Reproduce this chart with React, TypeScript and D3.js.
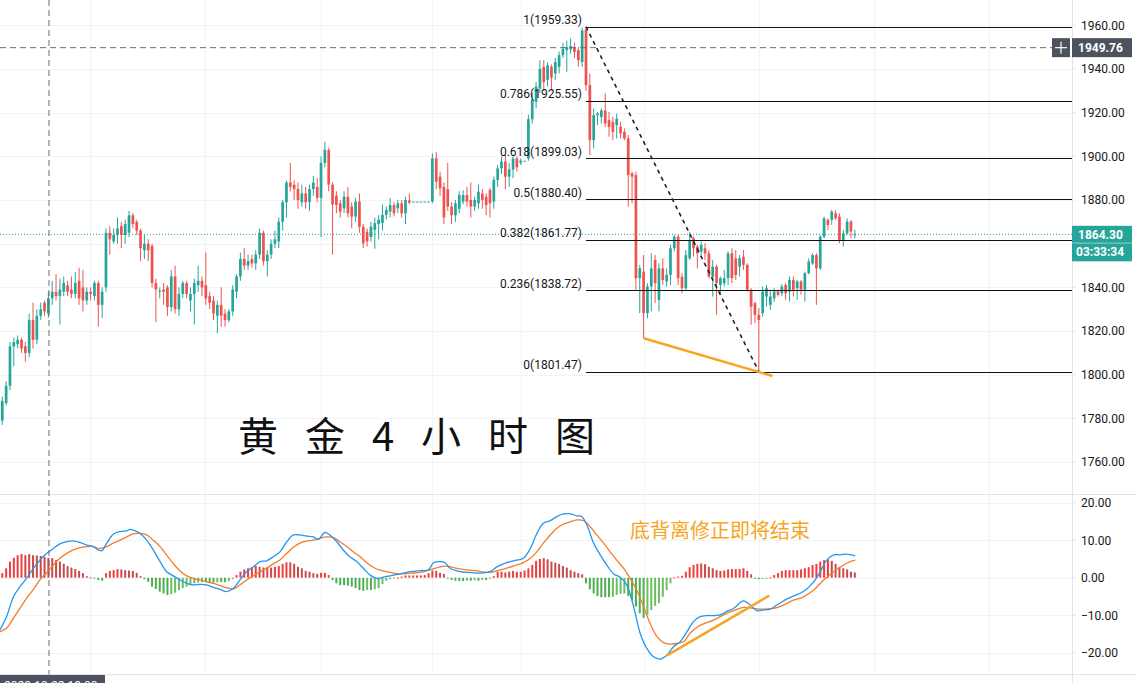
import React from 'react';
import * as d3 from 'd3';

// ---------- DATA ----------
// 4h candles [open, high, low, close]
const ohlc: [number, number, number, number][] = [
  [1779,1790,1777,1788],[1787,1797,1786,1795],[1795,1815,1793,1813],[1813,1817,1804,1815],[1814,1818,1812,1816],
  [1816,1817,1810,1812],[1813,1815,1806,1810],[1810,1828,1808,1825],[1825,1833,1812,1816],[1816,1830,1814,1827],
  [1827,1833,1825,1830],[1833,1834,1827,1829],[1828,1838,1826,1835],[1835,1843,1832,1838],[1838,1846,1834,1836],
  [1836,1844,1823,1839],[1838,1845,1836,1842],[1841,1843,1836,1838],[1839,1845,1835,1837],[1837,1847,1835,1842],
  [1843,1849,1832,1835],[1840,1848,1829,1834],[1834,1840,1832,1838],[1838,1840,1834,1837],[1836,1843,1834,1842],
  [1842,1843,1822,1832],[1832,1840,1826,1838],[1840,1867,1838,1865],[1865,1868,1855,1862],[1861,1867,1860,1864],
  [1864,1872,1860,1867],[1868,1870,1858,1864],[1864,1871,1860,1869],[1865,1875,1863,1873],[1873,1874,1867,1869],
  [1870,1871,1864,1866],[1866,1867,1852,1858],[1857,1864,1853,1860],[1860,1862,1852,1857],[1859,1860,1840,1842],
  [1842,1844,1824,1839],[1838,1840,1835,1838.5],[1839,1842,1832,1838],[1840,1841,1827,1831],[1831,1848,1829,1845],
  [1845,1850,1828,1830],[1830,1840,1827,1837],[1837,1843,1835,1842],[1842,1843,1835,1837],[1834,1840,1829,1837],
  [1837,1844,1823,1842],[1841,1850,1838,1843],[1843,1845,1836,1840],[1841,1856,1832,1835],[1836,1838,1830,1833],
  [1834,1836,1825,1828],[1827,1834,1819,1832],[1832,1840,1822,1827],[1828,1830,1822,1825],[1825,1830,1824,1829],
  [1829,1841,1827,1839],[1838,1846,1835,1845],[1845,1856,1843,1853],[1853,1858,1848,1850],[1850,1855,1848,1852],
  [1853,1855,1849,1851],[1851,1857,1848,1855],[1855,1867,1853,1865],[1865,1866,1850,1852],[1852,1857,1845,1855],
  [1855,1862,1853,1860],[1860,1866,1858,1862],[1861,1872,1858,1870],[1870,1880,1866,1879],[1879,1889,1872,1888],
  [1888,1897,1884,1886],[1887,1889,1880,1885],[1885,1888,1876,1880],[1879,1887,1877,1883],[1883,1886,1876,1879],
  [1879,1887,1875,1885],[1885,1891,1882,1888],[1886,1890,1879,1881],[1881,1900,1863,1897],[1897,1906.7,1895,1903],
  [1903,1904,1884,1887],[1887,1888,1855,1878],[1882,1884,1874,1877.7],[1878.5,1880,1872,1874.7],[1876.2,1884,1874,1881.5],
  [1881.5,1886,1872,1873.9],[1877,1879,1867,1872.4],[1872.4,1881,1870,1879.3],[1879.3,1883,1865,1867.8],[1867.8,1869,1858,1860.2],
  [1865.5,1867,1858.7,1861],[1863,1870,1861,1867.8],[1866.3,1872,1857.7,1869.4],[1869,1873,1862,1871],[1869.4,1878,1866,1873.2],
  [1873.2,1877,1871,1875.5],[1874.7,1881,1872,1877.7],[1877.7,1879,1872.5,1873.9],[1876.2,1880,1874,1878.5],[1878.5,1880,1872,1873.9],
  [1873.9,1881.5,1869,1880],[1879.8,1883,1878,1878.8],[1879.3,1879.3,1879.3,1879.3],[1879.3,1879.3,1879.3,1879.3],[1879.3,1879.3,1879.3,1879.3],
  [1879.3,1879.3,1879.3,1879.3],[1879.3,1879.3,1879.3,1879.3],[1879.3,1901.4,1878.5,1899.1],[1899.1,1902,1885,1888.4],[1890.7,1893,1882,1885.4],
  [1886,1888,1869,1872],[1885,1897,1875,1877],[1877,1879,1869,1873],[1873,1880,1870,1878.5],[1876,1884,1874,1882.3],
  [1879.3,1884.5,1878,1882.3],[1882.3,1886,1877,1879.3],[1880,1888,1872,1877],[1877,1881.5,1875,1880],[1878.5,1887,1876,1883.8],
  [1883,1885,1876,1880],[1881.5,1883,1873,1877.7],[1884.6,1885.5,1872,1878.5],[1879.3,1890.7,1876,1889.2],[1889.2,1896,1886,1894.5],
  [1894.5,1899.9,1892,1897.6],[1897.6,1900.6,1885,1890.7],[1890.7,1897,1886,1894],[1894,1900,1890,1899],[1899,1900,1893,1895],
  [1897,1899,1896,1898],[1898,1898,1898,1898],[1899,1919,1898,1917],[1917,1929,1915,1926],[1925,1934,1922,1932],
  [1931,1944,1929,1940],[1941,1944,1930,1934],[1935,1943,1932,1941.7],[1941,1942,1930,1936],[1937.9,1945,1935,1943.2],
  [1941,1948,1938,1946.3],[1946.3,1952,1945,1949.3],[1948.6,1953,1938.7,1950],[1949,1954,1947,1950.5],[1950,1952,1945,1947.8],
  [1948.6,1950,1941,1944],[1943.2,1959,1941,1957.7],[1958,1959.33,1930,1932.6],[1932.6,1937.9,1900.6,1907.4],[1907.4,1921.9,1903.6,1918.9],
  [1918.9,1920.4,1914.3,1919.6],[1918,1922,1915,1921],[1921,1928.8,1913.5,1915],[1916.6,1920.4,1909,1913.5],[1915.8,1918.1,1907.4,1911.2],
  [1914.3,1919.6,1908.2,1917.3],[1913.5,1915.8,1908.2,1910.5],[1911.2,1912.8,1907.4,1908.2],[1908.2,1909.7,1877,1891.4],[1892.2,1893,1878.5,1890.7],
  [1891.4,1893,1838.9,1844.2],[1844.2,1850.3,1828.2,1848.7],[1847.2,1854.8,1816.7,1828.2],[1828.2,1841.9,1825.9,1840.4],[1840.4,1855.6,1829,1848.7],
  [1852.6,1854.8,1832.8,1841.9],[1834.3,1851,1829,1848.7],[1848.7,1853.3,1841.1,1843.4],[1842.7,1848.7,1840.4,1845.7],[1845.7,1859.4,1841.1,1857.9],
  [1857.9,1864,1856.4,1863.2],[1863.2,1864,1841.1,1844.2],[1844.9,1846.5,1837.3,1839.6],[1839.6,1857.1,1838.9,1854.8],[1853.3,1865.5,1852.6,1861.7],
  [1862.5,1863.2,1854.1,1857.9],[1858.7,1859.4,1848.7,1855.6],[1856.4,1861,1854.8,1859.4],[1857.9,1860.2,1852.6,1855.6],[1855.6,1857.1,1844.2,1844.9],
  [1844.9,1852.6,1835.8,1849.5],[1849.5,1850.3,1827.4,1841.9],[1841.1,1845,1836.6,1844.2],[1841.9,1848,1840.4,1844.2],[1844.2,1856.4,1841.1,1855.6],
  [1855.6,1857.9,1841.9,1844.2],[1853.3,1857.1,1843.4,1845.7],[1849.5,1854.8,1845,1853.3],[1854.1,1857.1,1848,1850.3],[1850.3,1851,1838.1,1838.9],
  [1838.9,1839.6,1822.9,1831.2],[1832.8,1833.5,1823.6,1827.4],[1827.4,1830.5,1801.47,1825.1],[1828.2,1840.4,1826.7,1838.1],[1835.8,1841.1,1831.2,1839.6],
  [1832,1838.9,1829.7,1835.8],[1835,1839.6,1833.5,1838.1],[1838.1,1839,1835.8,1836.6],[1837.3,1841.5,1836,1840.4],[1841.1,1841.9,1834.3,1837.3],
  [1838.1,1845,1833.5,1843.4],[1843.4,1845,1835.8,1838.9],[1839.6,1843.4,1834.3,1842.7],[1842.7,1843.4,1836.6,1838.9],[1838.9,1847.2,1833.5,1846.5],
  [1846.5,1853.3,1846,1851.8],[1851,1855.6,1850.3,1854.8],[1854.8,1855.6,1832,1848.7],[1848.7,1864,1848,1863.2],[1863.2,1872.4,1862.5,1871.6],
  [1870.9,1871.6,1866.3,1868.6],[1870.9,1875.4,1868.6,1874.7],[1873.9,1875.4,1870.9,1871.6],[1872.4,1873.9,1860.2,1861.7],[1861.7,1866.3,1858.7,1864.8],
  [1864.8,1871.6,1864,1870.1],[1870.1,1870.9,1862.5,1865.5],[1864,1866.3,1862.5,1864.3],
];

// MACD histogram, one value per candle
const histogram: number[] = [
  1.2,2.5,4.3,5.3,6.0,6.3,6.0,6.3,6.0,5.9,5.8,5.6,5.3,5.2,4.7,4.3,3.7,3.1,2.7,2.3,
  1.8,1.2,0.4,0.1,-0.2,-0.6,-0.8,1.2,1.8,2.0,2.3,2.2,2.0,1.9,1.8,1.3,0.4,-0.4,-1.1,-2.4,
  -3.0,-3.7,-4.2,-4.6,-4.4,-4.0,-3.3,-2.8,-2.4,-2.0,-1.5,-1.3,-1.2,-1.2,-1.2,-1.3,-1.2,-1.2,-1.2,-0.9,
  -0.4,0.7,1.6,2.2,2.5,2.8,3.1,2.9,2.7,2.8,2.7,2.9,3.1,3.7,4.1,4.1,3.7,2.9,2.5,1.8,
  1.6,1.2,1.0,1.3,1.3,0.7,-0.6,-1.5,-2.0,-2.0,-2.1,-2.4,-2.8,-3.3,-3.5,-3.3,-3.3,-3.1,-2.8,-1.7,
  -0.8,-0.4,-0.2,0.05,0.3,0.6,0.6,0.6,0.6,0.6,0.7,1.2,1.9,1.8,1.3,1.0,-0.2,-0.6,-0.8,-0.9,
  -0.9,-0.8,-0.8,-0.7,-0.8,-0.6,-0.6,-0.3,0.4,1.6,1.6,1.4,1.6,1.8,1.6,1.6,1.9,2.5,3.4,4.5,
  5.0,5.2,4.9,4.3,4.0,3.7,3.1,2.7,2.0,1.6,1.2,0.9,-1.5,-3.1,-4.2,-4.9,-5.2,-5.2,-5.2,-5.1,
  -4.6,-4.3,-4.2,-4.9,-5.9,-7.7,-9.5,-10.7,-9.9,-8.6,-7.5,-6.8,-5.1,-3.3,-1.5,0.1,0.3,0.5,1.6,2.8,
  3.4,3.7,3.8,3.6,2.9,2.5,2.0,1.8,1.9,2.2,2.3,2.3,2.3,2.5,1.8,0.9,-0.2,-0.4,-0.3,-0.1,
  0.1,0.7,1.2,1.8,2.0,2.0,2.0,2.0,2.2,2.5,2.8,3.4,3.7,4.3,4.7,4.9,4.5,3.7,2.9,2.5,
  2.2,1.6,1.4,
];

// MACD line (DIF) [candle index, value]
const difLine: [number, number][] = [
  [-0.6,-13.9],[1.1,-10.4],[2.9,-5.1],[4.6,-2.4],[6.3,-0.2],[8.1,2.5],[9.8,4.7],[11.6,6.5],[13.3,7.8],[15,9.0],
  [16.8,9.6],[18.5,9.8],[20.2,9.4],[22,8.7],[23.7,8.3],[25,7.4],[25.9,7.2],[27.2,9.2],[28.9,11.6],[30.7,12.3],
  [32.4,12.5],[33.3,12.9],[34.6,12.5],[35.9,11.8],[37.6,10.0],[39.3,7.4],[41.1,4.3],[42.8,1.6],[44.5,0.5],[46.3,-0.6],
  [48,-1.5],[49.7,-1.9],[51.5,-1.8],[53.2,-1.9],[55,-2.6],[56.7,-3.1],[58.4,-3.7],[60.2,-2.8],[61.9,-0.6],[63.6,1.6],
  [65.4,2.9],[67.1,4.3],[68.8,4.5],[70.6,5.6],[72.3,6.9],[74.1,9.6],[75.8,11.4],[77.5,11.4],[79.3,11.1],[81,10.9],
  [82.3,10.2],[84,12.1],[85.3,11.4],[87.1,9.6],[88.8,7.4],[90.5,5.6],[92.3,4.3],[94,2.5],[95.8,0.7],[97.5,-0.2],
  [99.5,0.2],[101,0.5],[103.6,1.0],[106.2,1.6],[108.8,1.9],[111,2.1],[112.3,4.0],[114,4.3],[115.3,4.0],[116.6,2.5],
  [119.2,1.6],[121.8,1.4],[124.4,1.2],[127,1.6],[128.8,2.9],[130.5,3.7],[133.1,4.5],[135.7,5.2],[137.5,7.8],[139.2,11.8],
  [140.9,14.5],[142.7,15.2],[144.4,16.3],[146.1,17.0],[147.9,17.0],[149.6,16.5],[150.9,16.3],[152.2,14.1],[154,9.2],[155.7,6.1],
  [157.4,3.4],[159.2,1.0],[160.9,0.1],[162.6,-1.9],[164.4,-7.7],[166.1,-14.8],[167.8,-18.8],[169.6,-21.1],[171.3,-21.7],[173.1,-20.6],
  [174.8,-18.4],[176.5,-17.1],[178.3,-14.4],[180,-11.7],[181.7,-10.4],[183.5,-10.1],[185.2,-10.1],[186.9,-9.9],[188.7,-9.0],[190.4,-8.2],
  [193,-6.2],[194.8,-7.3],[196.5,-8.8],[198.2,-8.6],[200,-8.4],[201.7,-7.3],[203.4,-6.2],[206,-4.9],[208.6,-3.7],[211.3,-1.1],
  [213,1.6],[214.7,4.7],[216.5,6.1],[218.2,6.1],[219.9,6.3],[222.1,5.8],
];

// Signal line (DEA) [candle index, value]
const deaLine: [number, number][] = [
  [-0.6,-14.4],[1.1,-13.5],[2.9,-10.8],[4.6,-8.2],[6.3,-5.5],[8.1,-3.1],[9.8,-0.6],[11.6,1.4],[13.3,3.4],[15,5.2],
  [16.8,6.5],[18.5,7.4],[20.2,8.0],[22,8.3],[23.7,8.3],[25.4,7.8],[27.2,8.3],[28.9,9.2],[30.7,10.0],[32.4,10.9],
  [34.1,11.7],[35.9,11.8],[37.6,11.4],[39.3,10.0],[41.1,8.3],[42.8,6.0],[44.5,3.8],[46.3,1.8],[48,0.5],[49.7,-0.2],
  [51.5,-0.6],[53.2,-1.1],[55,-1.5],[56.7,-2.1],[58.4,-2.7],[60.2,-3.0],[61.9,-1.9],[63.6,-0.6],[65.4,0.5],[67.1,1.6],
  [68.8,2.5],[70.6,3.7],[72.3,4.7],[74.1,6.5],[75.8,8.1],[77.5,9.2],[79.3,9.8],[81,10.0],[82.7,10.5],[84.5,10.9],
  [86.2,10.7],[87.9,9.6],[89.7,8.3],[91.4,6.9],[93.2,5.6],[94.9,4.0],[96.6,2.8],[98.4,2.0],[101,1.4],[103.6,1.0],
  [106.2,1.2],[108.8,1.4],[111.4,2.1],[114,2.9],[115.8,3.1],[118.4,2.5],[121,2.1],[123.6,1.8],[126.2,1.4],[127.9,1.6],
  [130.5,2.3],[133.1,3.1],[135.7,4.0],[137.5,5.2],[139.2,6.9],[140.9,9.2],[142.7,11.4],[144.4,13.2],[146.1,14.3],[147.9,14.9],
  [149.6,15.4],[151.4,15.2],[153.1,13.6],[154.8,11.4],[156.6,9.2],[158.3,6.9],[160,4.7],[161.8,2.5],[163.5,-0.2],[165.2,-3.3],
  [167,-7.7],[168.7,-12.2],[170.5,-15.7],[172.2,-17.3],[173.9,-17.7],[175.7,-17.5],[177.4,-17.1],[179.1,-14.8],[180.9,-13.2],[182.6,-12.3],
  [185.2,-11.3],[187.8,-9.9],[190.4,-8.8],[193,-7.9],[195.6,-8.2],[198.2,-8.4],[200.8,-8.2],[203.4,-7.3],[206,-6.0],[208.6,-5.1],
  [211.3,-3.3],[213.9,-0.6],[216.5,1.6],[219.1,3.4],[220.8,4.3],[222.1,4.7],
];

const priceTicks = [1960, 1940, 1920, 1900, 1880, 1860, 1840, 1820, 1800, 1780, 1760];
const macdTicks = [20, 10, 0, -10, -20];
const timeGridIdx = [22.8, 52.8, 83, 112, 135, 167, 197, 227, 257];

const fibRatios = ['1', '0.786', '0.618', '0.5', '0.382', '0.236', '0'];
const fibPrices = [1959.33, 1925.55, 1899.03, 1880.4, 1861.77, 1838.72, 1801.47];
const fibStartIdx = 152;

// trend annotations [candle index, value]
const fibDiagonal: [number, number][] = [[152, 1959.33], [197, 1801.47]];
const priceDivergence: [number, number][] = [[167, 1816.7], [200.6, 1799.4]];
const macdDivergence: [number, number][] = [[173, -20.8], [199.7, -4.8]];

const crossIdx = 12.16;
const crossPrice = 1949.76;
const lastPrice = 1864.3;
const countdown = '03:33:34';
const crossTimeLabel = '2020-10-22   18:00';
const titleText = '黄 金 4 小 时 图';
const noteText = '底背离修正即将结束';

// ---------- CHART ----------
const W = 1136;
const H = 683;
const AX = 1072;
const PRICE_BOTTOM = 494.5;
const MACD_BOTTOM = 674.5;

const UP = '#26a69a';
const DOWN = '#ef5350';
const GRID = '#f0f3fa';
const BORDER = '#e0e3eb';
const TEXT = '#131722';
const LABEL_BG = '#4c525e';
const ORANGE = '#f6a623';

export default function App() {
  const x = d3.scaleLinear().domain([0, ohlc.length - 1]).range([2.3, 854.8]);
  const yP = d3.scaleLinear().domain([1760, 1960]).range([462.1, 25.3]);
  const yM = d3.scaleLinear().domain([-20, 20]).range([652.7, 502.7]);

  const line = d3
    .line<[number, number]>()
    .x((d) => x(d[0]))
    .y((d) => yM(d[1]))
    .curve(d3.curveCatmullRom.alpha(0.5));

  const crossY = yP(crossPrice);
  const crossX = x(crossIdx);
  const lastY = yP(lastPrice);
  const font = "Roboto, 'Noto Sans', Arial, sans-serif";

  // axis labels hidden behind the live price badges
  const visiblePriceTicks = priceTicks.filter(
    (t) => Math.abs(yP(t) - (lastY + 9)) > 24 && Math.abs(yP(t) - crossY) > 14
  );

  return (
    <div style={{ position: 'fixed', left: 0, top: 0, width: W, height: H, background: '#fff' }}>
      <svg width={W} height={H} style={{ display: 'block' }} fontFamily={font}>
        <defs>
          <clipPath id="pricePane">
            <rect x={0} y={0} width={AX} height={PRICE_BOTTOM} />
          </clipPath>
          <clipPath id="macdPane">
            <rect x={0} y={PRICE_BOTTOM + 0.5} width={AX} height={MACD_BOTTOM - PRICE_BOTTOM - 1} />
          </clipPath>
        </defs>
        <rect x={0} y={0} width={W} height={H} fill="#fff" />

        {/* grids */}
        <g shapeRendering="crispEdges" stroke={GRID} strokeWidth={1}>
          {priceTicks.map((t) => (
            <line key={'pg' + t} x1={0} x2={AX} y1={Math.round(yP(t)) + 0.5} y2={Math.round(yP(t)) + 0.5} />
          ))}
          {macdTicks.map((t) => (
            <line key={'mg' + t} x1={0} x2={AX} y1={Math.round(yM(t)) + 0.5} y2={Math.round(yM(t)) + 0.5} />
          ))}
          {timeGridIdx.map((t) => (
            <line key={'tg' + t} x1={Math.round(x(t)) + 0.5} x2={Math.round(x(t)) + 0.5} y1={0} y2={MACD_BOTTOM} />
          ))}
        </g>

        {/* pane borders */}
        <g shapeRendering="crispEdges" stroke={BORDER} strokeWidth={1}>
          <line x1={0} x2={W} y1={PRICE_BOTTOM} y2={PRICE_BOTTOM} />
          <line x1={0} x2={W} y1={MACD_BOTTOM} y2={MACD_BOTTOM} />
          <line x1={AX + 0.5} x2={AX + 0.5} y1={0} y2={H} />
        </g>

        {/* price pane */}
        <g clipPath="url(#pricePane)">
          <line x1={0} x2={AX} y1={lastY} y2={lastY} stroke={UP} strokeWidth={1} strokeDasharray="1 2" />

          {ohlc.map((d, i) => {
            const [o, h, l, c] = d;
            const col = c >= o ? UP : DOWN;
            const cx = x(i);
            const top = yP(Math.max(o, c));
            const bh = Math.max(1, Math.abs(yP(o) - yP(c)));
            return (
              <g key={'c' + i}>
                <line x1={cx} x2={cx} y1={yP(h)} y2={yP(l)} stroke={col} strokeWidth={1} />
                <rect x={cx - 1.35} y={top} width={2.7} height={bh} fill={col} />
              </g>
            );
          })}

          {fibPrices.map((p, k) => (
            <g key={'f' + k}>
              <line
                x1={x(fibStartIdx)}
                x2={AX}
                y1={Math.round(yP(p)) + 0.5}
                y2={Math.round(yP(p)) + 0.5}
                stroke="#111"
                strokeWidth={1}
                shapeRendering="crispEdges"
              />
              <text x={x(fibStartIdx) - 4} y={yP(p) - 2.5} textAnchor="end" fontSize={12} fill={TEXT}>
                {`${fibRatios[k]}(${p.toFixed(2)})`}
              </text>
            </g>
          ))}

          <line
            x1={x(fibDiagonal[0][0])}
            y1={yP(fibDiagonal[0][1])}
            x2={x(fibDiagonal[1][0])}
            y2={yP(fibDiagonal[1][1])}
            stroke="#222"
            strokeWidth={1.6}
            strokeDasharray="4 4"
          />

          <line
            x1={x(priceDivergence[0][0])}
            y1={yP(priceDivergence[0][1])}
            x2={x(priceDivergence[1][0])}
            y2={yP(priceDivergence[1][1])}
            stroke={ORANGE}
            strokeWidth={2.5}
          />

          <text
            x={238}
            y={451}
            fontSize={40}
            fill="#111"
            fontFamily="'Noto Sans CJK SC', sans-serif"
            style={{ letterSpacing: '9px' }}
          >
            {titleText}
          </text>
        </g>

        {/* MACD pane */}
        <g clipPath="url(#macdPane)">
          {histogram.map((v, i) => {
            const prev = i > 0 ? histogram[i - 1] : v;
            let col: string;
            if (v >= 0) col = v >= prev ? '#ee3e3e' : '#c84b4b';
            else col = v <= prev ? '#4caf50' : '#6dbd63';
            const y0 = yM(0);
            const y1 = yM(v);
            return (
              <rect
                key={'h' + i}
                x={x(i) - 1}
                y={Math.min(y0, y1)}
                width={2}
                height={Math.max(1, Math.abs(y1 - y0))}
                fill={col}
              />
            );
          })}
          <path d={line(deaLine) || ''} fill="none" stroke="#f57c2b" strokeWidth={1.3} />
          <path d={line(difLine) || ''} fill="none" stroke="#2196f3" strokeWidth={1.3} />
          <line
            x1={x(macdDivergence[0][0])}
            y1={yM(macdDivergence[0][1])}
            x2={x(macdDivergence[1][0])}
            y2={yM(macdDivergence[1][1])}
            stroke={ORANGE}
            strokeWidth={2.5}
          />
          <text x={630} y={538} fontSize={20} fill={ORANGE} fontFamily="'Noto Sans CJK SC', sans-serif">
            {noteText}
          </text>
        </g>

        {/* crosshair */}
        <line x1={0} x2={AX - 20} y1={crossY} y2={crossY} stroke="#6a6d78" strokeWidth={1} strokeDasharray="6 4" />
        <line x1={crossX} x2={crossX} y1={0} y2={MACD_BOTTOM} stroke="#6a6d78" strokeWidth={1} strokeDasharray="6 4" />

        {/* price axis */}
        {priceTicks.map((t) => (
          <line key={'ptk' + t} x1={AX} x2={AX + 4} y1={yP(t)} y2={yP(t)} stroke={BORDER} />
        ))}
        {visiblePriceTicks.map((t) => (
          <text key={'pt' + t} x={AX + 9} y={yP(t) + 4.3} fontSize={12} fill={TEXT}>
            {t.toFixed(2)}
          </text>
        ))}
        {macdTicks.map((t) => (
          <g key={'mt' + t}>
            <line x1={AX} x2={AX + 4} y1={yM(t)} y2={yM(t)} stroke={BORDER} />
            <text x={AX + 9} y={yM(t) + 4.3} fontSize={12} fill={TEXT}>
              {(t < 0 ? '\u2212' : '') + Math.abs(t).toFixed(2)}
            </text>
          </g>
        ))}

        {/* crosshair price label with + button */}
        <rect x={AX - 20} y={crossY - 9.5} width={18} height={19} fill={LABEL_BG} />
        <line x1={AX - 17} x2={AX - 5} y1={crossY} y2={crossY} stroke="#fff" strokeWidth={1.2} />
        <line x1={AX - 11} x2={AX - 11} y1={crossY - 6} y2={crossY + 6} stroke="#fff" strokeWidth={1.2} />
        <rect x={AX} y={crossY - 9.5} width={60} height={19} fill={LABEL_BG} />
        <text x={AX + 6} y={crossY + 4.3} fontSize={12} fontWeight={700} fill="#fff">
          {crossPrice.toFixed(2)}
        </text>

        {/* last price label */}
        <rect x={AX} y={lastY - 8.5} width={60} height={17} fill={UP} />
        <text x={AX + 6} y={lastY + 4.3} fontSize={12} fontWeight={700} fill="#fff">
          {lastPrice.toFixed(2)}
        </text>
        <rect x={AX} y={lastY + 9} width={60} height={18} fill={UP} />
        <text x={AX + 4} y={lastY + 22} fontSize={12} fontWeight={700} fill="#fff">
          {countdown}
        </text>

        {/* crosshair time label (cut at bottom edge, as in the reference) */}
        <rect x={0} y={MACD_BOTTOM + 0.5} width={105} height={20} fill={LABEL_BG} />
        <text x={4} y={MACD_BOTTOM + 15} fontSize={12} fill="#fff">
          {crossTimeLabel}
        </text>
      </svg>
    </div>
  );
}
